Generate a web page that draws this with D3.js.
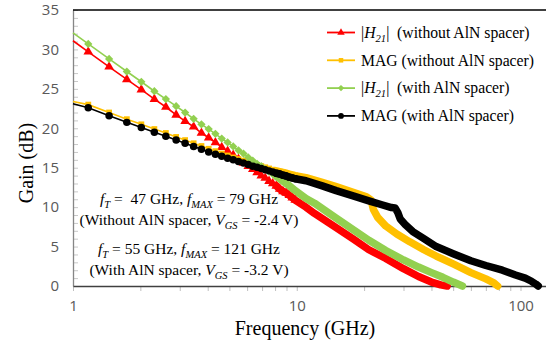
<!DOCTYPE html>
<html>
<head>
<meta charset="utf-8">
<script src="https://cdn.jsdelivr.net/npm/d3@7"></script>
<style>
  body { margin: 0; background: #fff; }
</style>
</head>
<body>
<script>
// frequencies (GHz) of the single markers that can still be told apart
var freqLow = [1.17, 1.45, 1.74, 2.02, 2.31, 2.6, 2.89, 3.17, 3.46, 3.75, 4.04, 4.33, 4.62, 4.91, 5.2,
  5.49, 5.78, 6.07, 6.36, 6.65, 6.94, 7.23, 7.52, 7.81, 8.1, 8.39, 8.68, 8.97, 9.26, 9.55, 9.84];

// |H21| without AlN spacer
var h21NoStart = 31.1;
var h21NoLow = [29.7, 27.8, 26.2, 24.9, 23.7, 22.7, 21.7, 20.9, 20.2, 19.4, 18.8, 18.2, 17.6, 17.1, 16.6,
  16.1, 15.6, 15.2, 14.8, 14.4, 14.0, 13.7, 13.3, 13.0, 12.7, 12.3, 12.0, 11.8, 11.5, 11.2, 10.9];
var h21NoTailFreq = [11, 12, 15, 18, 21, 25, 30, 35, 40, 44, 47];
var h21NoTail = [10.0, 9.2, 7.4, 5.9, 4.6, 3.5, 2.2, 1.2, 0.5, 0.15, 0];

// MAG without AlN spacer
var magNoStart = 23.4;
var magNoLow = [23.0, 22.0, 21.15, 20.5, 19.9, 19.4, 18.9, 18.5, 18.1, 17.75, 17.4, 17.1, 16.8, 16.55, 16.3,
  16.1, 15.9, 15.7, 15.5, 15.35, 15.2, 15.05, 14.9, 14.75, 14.6, 14.5, 14.4, 14.3, 14.2, 14.1, 14.0];
var magNoTailFreq = [11, 13, 15, 18, 20.5, 21.5, 22, 23, 25, 28, 32, 37, 42, 50, 60, 70, 76, 79];
var magNoTail = [13.75, 13.15, 12.6, 11.85, 11.3, 10.9, 9.7, 8.7, 7.6, 6.6, 5.6, 4.6, 3.8, 2.8, 1.7, 0.9, 0.4, 0];

// |H21| with AlN spacer
var h21WithStart = 32.1;
var h21WithLow = [30.7, 28.8, 27.2, 25.9, 24.7, 23.7, 22.8, 22.0, 21.2, 20.5, 19.9, 19.3, 18.7, 18.2, 17.7,
  17.2, 16.8, 16.3, 15.9, 15.5, 15.2, 14.8, 14.5, 14.2, 13.9, 13.6, 13.3, 13.0, 12.7, 12.4, 12.1];
var h21WithTailFreq = [11, 12, 15, 18, 21, 25, 30, 35, 40, 45, 50, 55];
var h21WithTail = [11.1, 10.5, 8.6, 7.1, 5.8, 4.5, 3.3, 2.4, 1.7, 1.1, 0.5, 0];

// MAG with AlN spacer
var magWithStart = 23.1;
var magWithLow = [22.6, 21.6, 20.75, 20.1, 19.5, 19.0, 18.5, 18.1, 17.7, 17.35, 17.0, 16.7, 16.45, 16.2, 16.0,
  15.8, 15.6, 15.4, 15.2, 15.05, 14.9, 14.75, 14.6, 14.45, 14.3, 14.2, 14.05, 13.95, 13.8, 13.7, 13.6];
var magWithTailFreq = [11, 13, 15, 18, 21, 24, 26.5, 27.5, 28.3, 29, 30.5, 33, 37, 42, 50, 60, 70, 83, 95, 105, 112, 117, 120];
var magWithTail = [13.35, 12.7, 12.1, 11.4, 10.8, 10.3, 9.95, 9.9, 9.3, 8.5, 7.8, 6.9, 6.0, 5.0, 4.1, 3.2, 2.6, 2.0, 1.4, 1.0, 0.6, 0.25, 0];

var yTicks = [0, 5, 10, 15, 20, 25, 30, 35];
var xTicks = [1, 10, 100];

// svg container
var svgWidth = 546;
var svgHeight = 346;
var margin = { top: 10, right: 0, bottom: 60, left: 73 };
var chartWidth = svgWidth - margin.left - margin.right;
var chartHeight = svgHeight - margin.top - margin.bottom;

var svg = d3.select("body")
  .append("svg")
  .attr("width", svgWidth)
  .attr("height", svgHeight);

var chartGroup = svg.append("g")
  .attr("transform", `translate(${margin.left}, ${margin.top})`);

var xLogScale = d3.scaleLog().domain([1, 130]).range([0, chartWidth]);
var yLinearScale = d3.scaleLinear().domain([0, 35]).range([chartHeight, 0]);

// minor ticks
var minorX = [];
[1, 10, 100].forEach(function(dec) {
  for (var k = 1; k < 10; k++) if (dec * k <= 130) minorX.push(dec * k);
});
chartGroup.append("g")
  .attr("transform", `translate(0, ${chartHeight})`)
  .call(d3.axisBottom(xLogScale).tickValues(minorX).tickSize(5).tickFormat(""))
  .call(g => g.select(".domain").remove())
  .selectAll("line").attr("stroke", "#bfbfbf");

chartGroup.append("g")
  .call(d3.axisRight(yLinearScale).tickValues(d3.range(0, 36)).tickSize(5).tickFormat(""))
  .call(g => g.select(".domain").remove())
  .selectAll("line").attr("stroke", "#c8c8c8");

// axes with labels
var leftAxis = chartGroup.append("g")
  .call(d3.axisLeft(yLinearScale).tickValues(yTicks).tickSize(0).tickPadding(14));
leftAxis.select(".domain").attr("stroke", "#868686").attr("stroke-width", 1.3);

var bottomAxis = chartGroup.append("g")
  .attr("transform", `translate(0, ${chartHeight})`)
  .call(d3.axisBottom(xLogScale).tickValues(xTicks).tickFormat(d3.format("d")).tickSize(0).tickPadding(14));
bottomAxis.select(".domain").attr("stroke", "#404040").attr("stroke-width", 1.3);

chartGroup.selectAll(".tick text")
  .attr("font-family", "Open Sans")
  .style("font-family", "'Open Sans'")
  .style("font-size", "15px")
  .style("fill", "#595959");

// top frame
chartGroup.append("line")
  .attr("x1", 0).attr("x2", chartWidth)
  .attr("y1", 0).attr("y2", 0)
  .attr("stroke", "#000").attr("stroke-width", 1.5);

// series
function buildSeries(start, low, tailFreq, tail) {
  var pts = [[1, start]];
  low.forEach((g, i) => pts.push([freqLow[i], g]));
  tail.forEach((g, i) => pts.push([tailFreq[i], g]));
  return pts;
}

var series = [
  { color: "#ff0000", symbol: d3.symbolTriangle, size: 40, rot: 0,
    pts: buildSeries(h21NoStart, h21NoLow, h21NoTailFreq, h21NoTail) },
  { color: "#ffc000", symbol: d3.symbolSquare, size: 34, rot: 0,
    pts: buildSeries(magNoStart, magNoLow, magNoTailFreq, magNoTail) },
  { color: "#92d050", symbol: d3.symbolSquare, size: 34, rot: 45,
    pts: buildSeries(h21WithStart, h21WithLow, h21WithTailFreq, h21WithTail) },
  { color: "#000000", symbol: d3.symbolCircle, size: 44, rot: 0,
    pts: buildSeries(magWithStart, magWithLow, magWithTailFreq, magWithTail) }
];

var line = d3.line()
  .x(d => xLogScale(d[0]))
  .y(d => yLinearScale(d[1]));

series.forEach(function(s) {
  var grp = chartGroup.append("g");
  grp.append("path")
    .attr("d", line(s.pts))
    .attr("fill", "none")
    .attr("stroke", s.color)
    .attr("stroke-width", 1.6);
  // merged markers form a thick band at high frequency
  grp.append("path")
    .attr("d", line(s.pts.filter(d => d[0] >= 8)))
    .attr("fill", "none")
    .attr("stroke", s.color)
    .attr("stroke-width", 7.5)
    .attr("stroke-linecap", "round")
    .attr("stroke-linejoin", "round");
  grp.selectAll(".marker")
    .data(s.pts.slice(1, freqLow.length + 1))
    .enter()
    .append("path")
    .attr("d", d3.symbol().type(s.symbol).size(s.size))
    .attr("transform", d => `translate(${xLogScale(d[0])}, ${yLinearScale(d[1])}) rotate(${s.rot})`)
    .attr("fill", s.color);
});

// serif text, set both ways so nothing falls back to sans
function serifText(sel, size) {
  return sel
    .attr("font-family", "Liberation Serif")
    .attr("font-size", size)
    .style("font-family", "'Liberation Serif', Tinos, serif")
    .style("font-size", size + "px")
    .style("fill", "#000");
}

// rich text helper: parts = [text, kind] kind: "", "i", "sub"
function richText(sel, parts, fontSize) {
  var shifted = false;
  parts.forEach(function(p) {
    var t = sel.append("tspan").text(p[0]);
    if (p[1] === "i") t.style("font-style", "italic");
    if (p[1] === "sub") {
      t.style("font-style", "italic").style("font-size", (fontSize * 0.68) + "px");
      if (!shifted) { t.attr("dy", fontSize * 0.25); shifted = true; }
    } else if (shifted) {
      t.attr("dy", -fontSize * 0.25); shifted = false;
    }
  });
}

// legend
var legendLabels = [
  [["|", ""], ["H", "i"], ["21", "sub"], ["|  (without AlN spacer)", ""]],
  [["MAG (without AlN spacer)", ""]],
  [["|", ""], ["H", "i"], ["21", "sub"], ["|  (with AlN spacer)", ""]],
  [["MAG (with AlN spacer)", ""]]
];
var legend = svg.append("g");
series.forEach(function(s, i) {
  var ly = 32.5 + i * 27.8;
  legend.append("line")
    .attr("x1", 327).attr("x2", 355)
    .attr("y1", ly).attr("y2", ly)
    .attr("stroke", s.color).attr("stroke-width", 1.8);
  legend.append("path")
    .attr("d", d3.symbol().type(s.symbol).size(s.size * 0.6))
    .attr("transform", `translate(341, ${ly}) rotate(${s.rot})`)
    .attr("fill", s.color);
  var t = serifText(legend.append("text"), 15.7)
    .attr("x", 361).attr("y", ly + 5.3)
    .style("white-space", "pre");
  richText(t, legendLabels[i], 15.7);
});

// annotation
var notes = [
  { y: 204, parts: [["f", "i"], ["T", "sub"], [" =  47 GHz, ", ""], ["f", "i"], ["MAX", "sub"], [" = 79 GHz", ""]] },
  { y: 225, parts: [["(Without AlN spacer, ", ""], ["V", "i"], ["GS", "sub"], [" = -2.4 V)", ""]] },
  { y: 254, parts: [["f", "i"], ["T", "sub"], [" = 55 GHz, ", ""], ["f", "i"], ["MAX", "sub"], [" = 121 GHz", ""]] },
  { y: 275, parts: [["(With AlN spacer, ", ""], ["V", "i"], ["GS", "sub"], [" = -3.2 V)", ""]] }
];
notes.forEach(function(n) {
  var t = serifText(svg.append("text"), 15.5)
    .attr("x", 189).attr("y", n.y)
    .attr("text-anchor", "middle")
    .style("white-space", "pre");
  richText(t, n.parts, 15.5);
});

// axis titles
serifText(svg.append("text"), 20)
  .attr("transform", "translate(33, 163) rotate(-90)")
  .attr("text-anchor", "middle")
  .text("Gain (dB)");

serifText(svg.append("text"), 20)
  .attr("x", 305).attr("y", 335)
  .attr("text-anchor", "middle")
  .text("Frequency (GHz)");
</script>
</body>
</html>
